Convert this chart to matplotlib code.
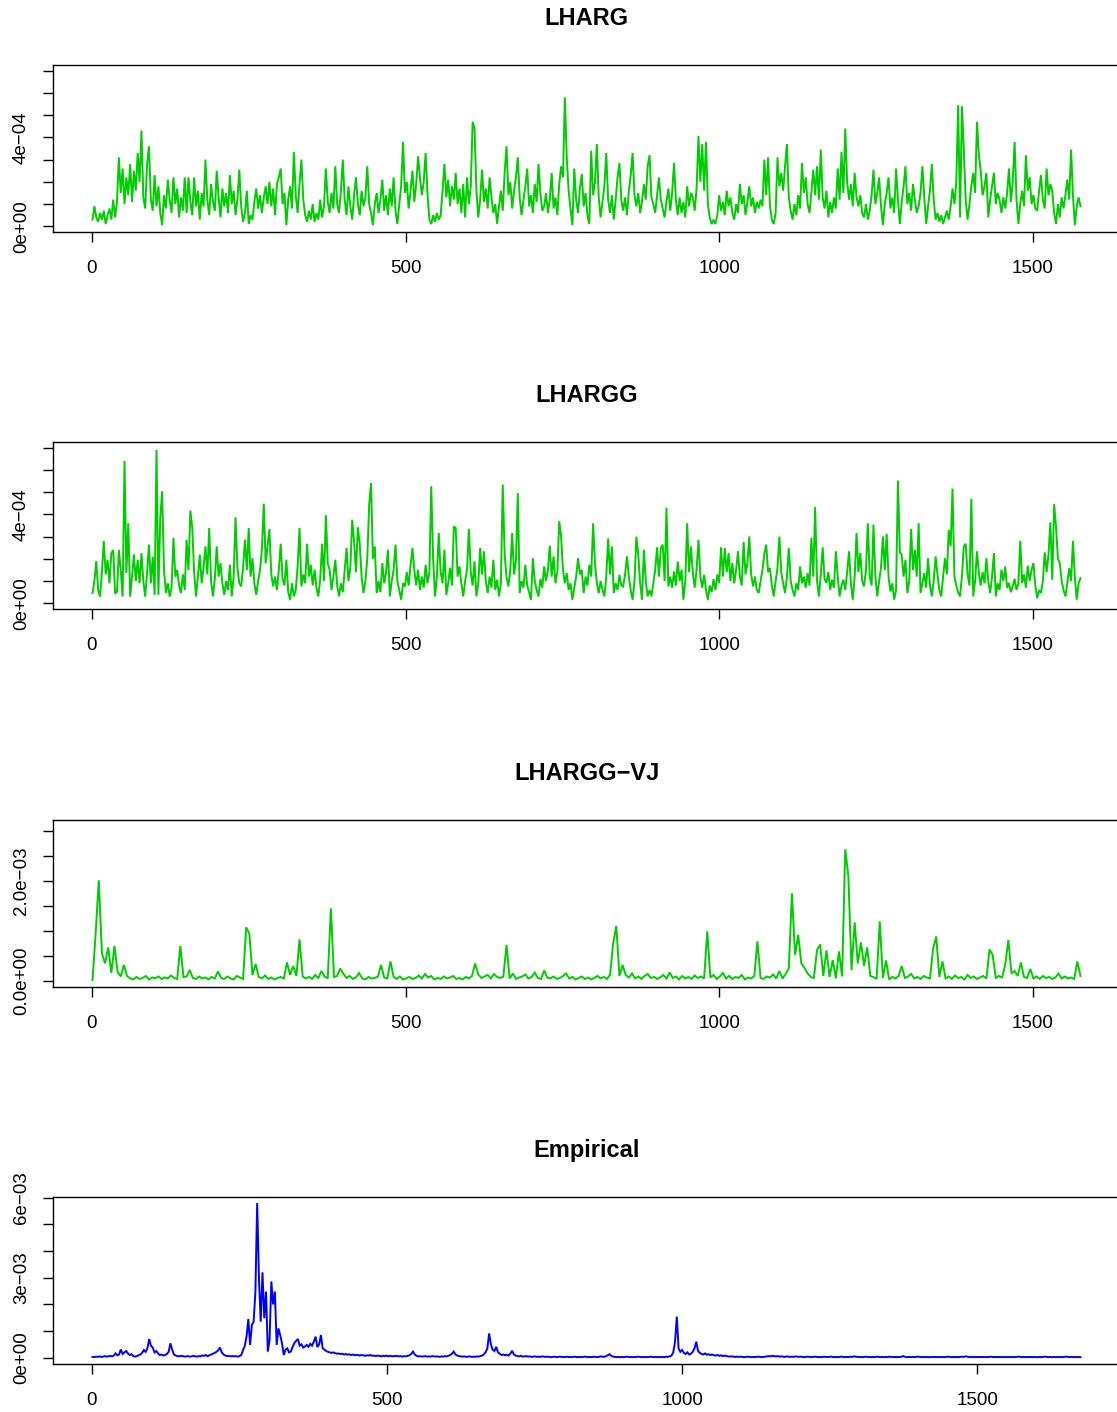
import numpy as np
import matplotlib.pyplot as plt

plt.rcParams['font.family'] = ['Liberation Sans', 'DejaVu Sans']

# conditional variance paths, one value every 3 days (units of 1e-4)
lharg = [
    0.3, 0.9, 0.4, 0.2, 0.6, 0.3, 0.7, 0.1, 0.5, 0.8,
    0.3, 1.2, 0.4, 1.1, 3.1, 1.5, 2.6, 1.0, 2.2, 1.4,
    2.8, 1.1, 2.5, 1.6, 3.3, 2.0, 4.3, 1.3, 0.8, 2.8,
    3.6, 1.2, 0.7, 2.3, 0.9, 1.8, 0.6, 0.05, 1.4, 0.8,
    2.1, 1.2, 0.6, 2.2, 1.0, 1.7, 0.4, 1.3, 0.7, 2.2,
    0.6, 2.2, 1.1, 0.5, 2.2, 0.9, 1.6, 0.3, 1.5, 0.9,
    3.0, 1.2, 0.5, 1.9, 1.1, 0.7, 2.5, 1.3, 0.4, 1.7,
    0.9, 1.5, 0.6, 2.3, 1.0, 1.6, 0.5, 1.2, 2.55, 0.9,
    0.2, 0.6, 1.6, 0.1, 0.5, 0.3, 1.1, 1.7, 0.8, 1.4,
    0.6, 1.3, 1.8, 1.0, 2.0, 0.9, 1.7, 0.5, 1.9, 2.2,
    2.6, 1.0, 1.5, 0.05, 1.2, 1.8, 0.8, 3.35, 1.4, 0.6,
    1.9, 3.0, 1.2, 0.5, 0.2, 0.7, 0.3, 1.0, 0.2, 0.6,
    0.3, 1.2, 0.4, 0.9, 2.6, 1.1, 0.6, 1.5, 0.8, 2.7,
    1.0, 0.6, 1.6, 3.0, 1.2, 0.5, 1.8, 0.9, 0.3, 1.4,
    2.2, 1.0, 0.5, 1.6, 0.9, 1.3, 2.7, 1.0, 0.6, 0.05,
    1.0, 1.5, 0.6, 1.2, 2.1, 0.7, 1.4, 0.5, 1.7, 0.9,
    2.2, 0.7, 0.1, 1.0, 1.8, 3.8, 1.5, 2.0, 0.8, 1.6,
    2.5, 1.1, 1.9, 3.15, 2.2, 1.4, 2.0, 3.3, 1.5, 0.3,
    0.1, 0.5, 0.2, 0.6, 0.3, 0.5, 1.6, 2.8, 1.3, 2.1,
    0.9, 1.8, 1.2, 2.4, 1.0, 1.7, 0.6, 1.9, 0.4, 2.2,
    1.0, 1.8, 4.7, 4.4, 1.6, 0.4, 1.2, 2.55, 1.1, 1.7,
    0.8, 2.2, 1.3, 0.6, 1.0, 0.1, 0.9, 1.6, 0.7, 2.4,
    3.6, 1.4, 2.0, 0.8, 1.6, 2.2, 3.1, 1.3, 0.5, 1.2,
    1.8, 2.6, 0.9, 1.4, 0.6, 1.9, 1.1, 2.8, 1.5, 0.7,
    0.9, 1.5, 0.6, 1.2, 2.4, 0.8, 1.3, 0.5, 1.9, 2.7,
    2.2, 5.8, 3.1, 1.6, 0.8, 0.05, 2.6, 1.2, 0.6, 1.7,
    2.35, 0.9, 1.5, 0.5, 0.1, 3.4, 1.4, 2.0, 3.7, 1.3,
    0.4, 1.1, 1.8, 3.3, 1.2, 0.6, 1.4, 0.3, 1.2, 2.2,
    2.85, 1.2, 0.7, 1.3, 0.5, 1.6, 2.3, 3.3, 1.4, 0.9,
    1.5, 0.6, 1.1, 1.9, 1.2, 2.7, 3.2, 1.3, 1.0, 0.6,
    1.4, 2.2, 1.2, 0.8, 0.4, 1.1, 1.7, 0.7, 1.5, 2.85,
    1.2, 0.5, 1.3, 0.6, 1.1, 0.4, 1.8, 0.9, 1.5, 1.3,
    0.7, 1.7, 4.06, 2.0, 3.7, 1.6, 3.8, 1.0, 0.4, 0.1,
    0.3, 0.1, 0.5, 1.4, 0.7, 1.1, 0.5, 1.6, 0.9, 1.3,
    0.6, 0.3, 1.0, 0.6, 1.9, 1.0, 1.4, 0.5, 1.1, 1.8,
    0.9, 1.3, 0.6, 1.1, 0.8, 1.2, 0.9, 3.0, 1.4, 3.1,
    0.9, 0.3, 0.1, 0.6, 3.1, 1.8, 2.4, 1.6, 2.7, 3.7,
    1.3, 0.7, 0.3, 1.0, 0.5, 1.4, 0.8, 2.85, 1.5, 2.2,
    1.0, 0.6, 1.5, 2.55, 1.4, 2.7, 1.2, 3.45, 1.3, 0.8,
    1.6, 0.4, 1.1, 0.6, 1.3, 0.8, 2.6, 1.2, 3.35, 1.5,
    4.4, 2.0, 1.2, 1.9, 0.9, 2.4, 1.3, 0.9, 1.4, 0.6,
    0.4, 1.0, 0.3, 0.7, 1.4, 2.55, 1.0, 1.5, 2.2, 0.9,
    0.05, 1.0, 1.5, 2.2, 0.8, 1.3, 0.6, 2.6, 1.2, 0.1,
    1.1, 1.8, 2.7, 1.0, 1.5, 0.7, 1.9, 1.2, 0.6, 0.9,
    1.5, 2.7, 1.3, 0.1, 0.9, 1.6, 2.8, 1.2, 0.3, 0.6,
    0.2, 0.5, 0.1, 0.4, 0.7, 0.3, 0.9, 1.7, 1.0, 2.0,
    5.45, 0.4, 5.4, 3.45, 1.2, 0.3, 1.0, 1.8, 2.4, 1.5,
    4.7, 3.2, 2.5, 1.4, 1.8, 2.4, 0.4, 1.2, 1.8, 2.4,
    1.0, 1.5, 1.2, 0.6, 1.3, 0.8, 1.5, 2.6, 1.1, 2.0,
    3.8, 1.2, 0.1, 1.0, 1.6, 0.9, 3.2, 1.6, 2.2, 1.0,
    1.4, 0.8, 0.7, 1.6, 2.3, 1.2, 0.8, 2.6, 1.4, 1.9,
    1.6, 0.6, 0.1, 1.0, 0.4, 1.3, 0.8, 1.4, 2.1, 1.2,
    3.45, 1.4, 0.05, 0.9, 1.3, 0.9,
]

lhargg = [
    0.46, 1.0, 1.9, 0.6, 0.3, 1.4, 2.8, 1.3, 1.96, 0.9,
    2.26, 2.4, 0.46, 0.5, 2.4, 1.5, 0.3, 6.4, 1.36, 3.6,
    0.3, 1.2, 2.2, 1.0, 1.96, 0.9, 2.26, 1.0, 0.3, 1.4,
    2.64, 0.9, 2.1, 0.38, 6.9, 0.38, 3.84, 5.04, 1.5, 0.46,
    0.9, 0.3, 0.7, 2.94, 1.2, 1.5, 0.8, 0.46, 1.3, 0.6,
    2.86, 1.5, 4.17, 3.39, 1.4, 0.31, 1.2, 2.19, 0.9, 1.6,
    2.56, 1.3, 3.39, 1.0, 0.31, 1.1, 2.56, 1.2, 1.81, 0.9,
    0.38, 1.0, 0.6, 1.73, 0.31, 1.2, 3.87, 1.6, 0.9, 0.76,
    1.6, 2.86, 1.5, 3.39, 1.2, 2.03, 0.9, 0.38, 1.0, 1.5,
    2.41, 4.48, 1.8, 2.56, 3.34, 1.3, 0.76, 1.2, 0.6, 1.5,
    2.68, 1.1, 0.8, 1.96, 0.5, 0.16, 0.9, 0.31, 0.6, 1.66,
    3.39, 0.76, 1.3, 0.9, 2.68, 1.2, 1.73, 0.8, 1.51, 0.7,
    0.31, 1.1, 2.68, 1.0, 3.96, 1.8, 1.51, 0.6, 1.21, 1.96,
    0.8, 0.31, 0.9, 0.5, 1.51, 2.49, 1.0, 1.6, 3.76, 2.79,
    1.4, 3.42, 2.68, 1.2, 0.46, 1.0, 2.0, 4.41, 5.41, 2.0,
    2.56, 0.46, 1.0, 0.5, 1.81, 0.9, 1.4, 2.41, 0.31, 1.0,
    1.5, 2.64, 1.0, 0.6, 0.16, 0.9, 0.76, 1.4, 0.8, 1.7,
    2.49, 1.51, 0.8, 1.51, 0.6, 1.2, 0.7, 1.73, 0.9, 1.4,
    5.26, 2.0, 0.31, 1.2, 3.16, 1.4, 0.9, 2.41, 0.38, 0.9,
    1.6, 0.8, 3.46, 3.39, 1.2, 1.66, 0.9, 0.31, 1.0, 1.5,
    3.34, 1.4, 0.8, 1.89, 0.31, 0.9, 2.49, 1.3, 2.34, 1.0,
    0.46, 1.2, 0.7, 1.96, 0.6, 1.06, 0.31, 0.9, 5.34, 2.19,
    1.2, 0.76, 1.5, 3.16, 1.3, 1.9, 4.96, 0.46, 1.0, 0.7,
    1.73, 0.8, 0.5, 0.16, 2.03, 1.0, 0.6, 0.31, 1.1, 0.7,
    1.66, 1.0, 1.5, 2.59, 1.2, 2.11, 0.9, 1.4, 3.69, 3.01,
    1.5, 0.9, 1.36, 0.6, 0.9, 0.16, 0.7, 1.2, 2.03, 1.3,
    1.5, 0.46, 1.2, 0.8, 1.73, 1.2, 3.6, 1.8, 0.9, 0.46,
    1.0, 0.6, 0.31, 1.2, 2.92, 1.3, 2.56, 0.46, 0.9, 0.6,
    1.28, 0.8, 0.76, 1.3, 2.11, 1.2, 0.6, 0.16, 1.0, 3.0,
    2.19, 0.9, 0.16, 2.41, 1.0, 0.31, 0.6, 0.31, 0.9, 1.5,
    2.52, 1.2, 2.49, 2.64, 1.0, 4.3, 0.76, 1.2, 0.7, 1.43,
    0.8, 1.88, 1.0, 1.51, 0.16, 1.0, 3.6, 1.4, 2.56, 1.36,
    0.7, 1.5, 2.86, 1.2, 0.7, 1.28, 0.6, 0.16, 0.8, 0.5,
    1.09, 0.6, 1.3, 0.9, 2.52, 1.2, 2.49, 1.4, 2.26, 1.0,
    1.81, 0.9, 1.5, 2.34, 1.2, 0.8, 2.76, 1.3, 1.8, 3.01,
    1.3, 0.76, 1.2, 0.6, 0.46, 1.0, 1.5, 2.21, 2.64, 1.4,
    1.58, 0.8, 0.31, 1.0, 1.6, 3.0, 1.4, 0.9, 0.46, 1.2,
    2.49, 1.0, 0.6, 0.31, 0.9, 0.6, 1.66, 0.9, 1.2, 0.7,
    1.36, 0.8, 2.94, 1.2, 4.33, 1.0, 0.31, 1.3, 2.52, 1.1,
    0.91, 1.4, 0.6, 1.06, 0.7, 2.34, 1.2, 0.31, 0.8, 1.06,
    0.6, 1.4, 2.34, 0.9, 0.16, 1.2, 3.16, 1.4, 2.26, 1.0,
    0.76, 1.5, 3.6, 1.21, 0.8, 3.54, 1.2, 0.31, 1.0, 1.6,
    3.01, 1.5, 3.13, 1.2, 0.53, 0.9, 0.16, 0.6, 5.52, 2.3,
    2.19, 1.2, 1.96, 0.46, 1.0, 3.34, 1.5, 2.41, 1.2, 3.6,
    0.46, 0.9, 1.36, 0.7, 2.03, 0.8, 0.31, 1.0, 2.11, 1.3,
    0.6, 0.31, 1.2, 2.03, 1.3, 3.3, 2.56, 5.16, 1.21, 0.8,
    0.5, 0.31, 1.2, 2.56, 2.68, 1.3, 0.8, 4.7, 0.31, 1.0,
    2.34, 1.36, 0.8, 1.4, 0.9, 2.03, 1.0, 0.46, 1.2, 2.26,
    0.31, 0.9, 0.6, 1.51, 1.0, 1.66, 0.7, 0.91, 0.5, 0.76,
    1.1, 0.6, 0.91, 2.81, 0.91, 1.3, 0.7, 1.69, 1.0, 1.5,
    1.81, 0.8, 0.23, 0.6, 0.46, 1.0, 2.29, 1.4, 2.19, 3.64,
    1.06, 4.46, 3.46, 2.0, 1.81, 1.0, 0.6, 0.31, 0.9, 1.58,
    1.0, 2.81, 1.2, 0.16, 0.9, 1.13,
]

# jump-augmented model, one value every 5 days (units of 1e-4)
lhargg_vj = [
    0.2, 9.5, 20.1, 5.5, 3.5, 6.7, 1.6, 7.0, 1.8, 0.9,
    3.2, 1.0, 0.5, 0.3, 0.8, 0.4, 0.6, 1.0, 0.3, 0.7,
    0.5, 0.9, 0.4, 0.7, 0.5, 1.1, 0.6, 0.4, 7.0, 0.8,
    0.9, 2.2, 0.6, 0.4, 0.9, 0.5, 0.7, 0.3, 0.8, 0.5,
    1.9, 0.6, 0.4, 0.9, 0.5, 0.3, 1.0, 0.7, 0.4, 10.7,
    9.5, 1.2, 3.4, 0.8, 0.5, 1.1, 0.4, 0.7, 0.3, 0.6,
    0.8, 0.5, 3.7, 1.2, 3.0, 1.0, 8.3, 0.9, 0.5, 0.8,
    0.4, 1.2, 0.6, 2.0, 0.9, 0.5, 14.5, 0.8, 1.0, 2.5,
    1.4, 0.6, 1.0, 0.4, 0.7, 1.6, 0.5, 0.3, 0.8, 0.5,
    0.6, 0.9, 3.2, 0.7, 0.5, 3.9, 0.8, 0.4, 0.9, 0.3,
    0.5, 0.8, 0.4, 0.6, 1.1, 0.5, 1.4, 0.7, 1.0, 0.3,
    0.6, 0.4, 0.9, 0.5, 0.7, 1.0, 0.4, 0.6, 0.3, 0.8,
    0.5, 1.0, 3.5, 1.3, 0.6, 0.9, 1.2, 0.5, 1.4, 0.8,
    0.6, 0.9, 7.2, 0.5, 1.5, 0.4, 0.7, 0.9, 1.3, 0.5,
    0.8, 1.7, 0.6, 0.4, 2.1, 0.7, 0.5, 0.9, 0.4, 0.6,
    1.0, 1.5, 0.5, 0.8, 0.3, 0.6, 0.9, 0.4, 0.7, 0.3,
    0.6, 1.0, 0.5, 0.8, 0.4, 1.2, 7.5, 11.0, 1.0, 3.2,
    1.2, 0.7, 1.5, 0.5, 0.9, 0.4, 1.0, 1.4, 0.6, 0.8,
    0.4, 0.7, 1.2, 0.5, 1.7, 0.6, 0.9, 0.3, 1.0, 0.5,
    0.8, 0.4, 1.1, 0.6, 0.9, 0.5, 9.9, 0.7, 1.2, 0.4,
    0.9, 1.6, 0.5, 1.0, 0.4, 0.8, 0.6, 1.2, 0.3, 0.7,
    0.5, 1.0, 7.9, 0.6, 0.4, 0.9, 0.7, 1.3, 0.5, 2.0,
    0.5, 1.4, 2.5, 17.5, 5.2, 9.2, 3.5, 2.6, 1.5, 0.8,
    0.6, 6.2, 7.3, 1.0, 6.1, 0.8, 4.2, 0.5, 5.9, 0.9,
    26.3, 20.9, 2.2, 11.7, 3.5, 7.7, 3.0, 6.7, 1.0, 0.8,
    0.4, 11.9, 0.6, 4.1, 0.3, 0.8, 0.5, 1.0, 3.0, 0.6,
    0.9, 1.4, 0.5, 0.8, 0.4, 1.0, 0.7, 0.5, 6.4, 8.9,
    0.8, 3.9, 0.5, 0.9, 0.4, 1.1, 0.6, 0.8, 0.3, 1.2,
    0.6, 0.9, 0.4, 0.7, 1.0, 0.5, 6.3, 5.2, 0.6, 1.0,
    0.7, 3.2, 8.2, 1.5, 2.0, 1.0, 3.7, 0.8, 0.6, 2.4,
    0.5, 0.9, 0.4, 1.0, 0.6, 0.8, 0.4, 0.7, 1.5, 0.5,
    0.9, 0.5, 0.7, 0.4, 3.9, 1.0,
]

# realized variance, one value every 3 days (units of 1e-3)
empirical = [
    0.03, 0.02, 0.04, 0.03, 0.05, 0.03, 0.04, 0.06, 0.04, 0.05,
    0.07, 0.05, 0.08, 0.16, 0.09, 0.12, 0.31, 0.14, 0.20, 0.25,
    0.16, 0.10, 0.13, 0.06, 0.04, 0.06, 0.09, 0.12, 0.18, 0.29,
    0.22, 0.35, 0.70, 0.45, 0.38, 0.20, 0.25, 0.16, 0.10, 0.12,
    0.08, 0.10, 0.14, 0.22, 0.54, 0.30, 0.12, 0.08, 0.06, 0.05,
    0.07, 0.06, 0.04, 0.05, 0.06, 0.04, 0.05, 0.07, 0.05, 0.04,
    0.06, 0.05, 0.08, 0.07, 0.10, 0.06, 0.09, 0.12, 0.15, 0.18,
    0.22, 0.28, 0.38, 0.20, 0.12, 0.08, 0.06, 0.07, 0.05, 0.06,
    0.05, 0.06, 0.04, 0.06, 0.10, 0.28, 0.45, 0.79, 1.45, 0.48,
    1.23, 1.35, 2.48, 5.80, 2.98, 1.35, 3.20, 1.48, 2.48, 0.23,
    0.66, 2.86, 2.00, 2.48, 0.48, 1.10, 0.85, 0.55, 0.10, 0.30,
    0.35, 0.20, 0.23, 0.40, 0.55, 0.63, 0.70, 0.45, 0.50, 0.38,
    0.42, 0.48, 0.41, 0.52, 0.45, 0.60, 0.79, 0.40, 0.50, 0.85,
    0.35, 0.30, 0.25, 0.22, 0.20, 0.18, 0.20, 0.17, 0.15, 0.16,
    0.14, 0.15, 0.12, 0.14, 0.11, 0.13, 0.10, 0.12, 0.09, 0.11,
    0.10, 0.08, 0.10, 0.09, 0.07, 0.09, 0.08, 0.10, 0.07, 0.08,
    0.06, 0.08, 0.07, 0.05, 0.07, 0.06, 0.08, 0.05, 0.07, 0.06,
    0.05, 0.07, 0.06, 0.05, 0.06, 0.04, 0.06, 0.05, 0.07, 0.09,
    0.14, 0.23, 0.12, 0.07, 0.05, 0.06, 0.04, 0.05, 0.06, 0.04,
    0.05, 0.04, 0.06, 0.05, 0.04, 0.05, 0.03, 0.05, 0.04, 0.06,
    0.05, 0.07, 0.10, 0.15, 0.23, 0.12, 0.08, 0.06, 0.05, 0.04,
    0.05, 0.03, 0.04, 0.05, 0.03, 0.04, 0.03, 0.05, 0.04, 0.06,
    0.08, 0.12, 0.20, 0.35, 0.91, 0.50, 0.30, 0.25, 0.41, 0.20,
    0.15, 0.10, 0.12, 0.09, 0.11, 0.08, 0.15, 0.26, 0.12, 0.08,
    0.06, 0.05, 0.07, 0.04, 0.05, 0.06, 0.04, 0.05, 0.03, 0.04,
    0.05, 0.03, 0.04, 0.03, 0.05, 0.04, 0.03, 0.04, 0.03, 0.02,
    0.03, 0.04, 0.02, 0.03, 0.04, 0.03, 0.02, 0.03, 0.04, 0.02,
    0.03, 0.02, 0.04, 0.03, 0.02, 0.03, 0.02, 0.03, 0.04, 0.03,
    0.02, 0.03, 0.02, 0.04, 0.03, 0.02, 0.03, 0.05, 0.04, 0.03,
    0.06, 0.09, 0.13, 0.07, 0.04, 0.03, 0.02, 0.03, 0.02, 0.03,
    0.02, 0.03, 0.04, 0.02, 0.03, 0.02, 0.03, 0.02, 0.04, 0.03,
    0.02, 0.03, 0.02, 0.03, 0.02, 0.04, 0.03, 0.02, 0.03, 0.02,
    0.03, 0.02, 0.03, 0.02, 0.04, 0.03, 0.05, 0.08, 0.20, 0.60,
    1.54, 0.35, 0.22, 0.29, 0.18, 0.14, 0.20, 0.12, 0.15, 0.22,
    0.35, 0.60, 0.25, 0.18, 0.14, 0.12, 0.16, 0.11, 0.13, 0.10,
    0.12, 0.09, 0.08, 0.10, 0.07, 0.09, 0.06, 0.08, 0.06, 0.05,
    0.04, 0.05, 0.04, 0.03, 0.04, 0.03, 0.04, 0.03, 0.02, 0.03,
    0.04, 0.03, 0.02, 0.03, 0.02, 0.03, 0.04, 0.03, 0.02, 0.03,
    0.04, 0.05, 0.06, 0.05, 0.07, 0.06, 0.05, 0.06, 0.04, 0.05,
    0.04, 0.03, 0.05, 0.04, 0.03, 0.04, 0.03, 0.05, 0.04, 0.03,
    0.04, 0.03, 0.02, 0.03, 0.04, 0.03, 0.02, 0.03, 0.04, 0.03,
    0.02, 0.03, 0.02, 0.04, 0.03, 0.02, 0.03, 0.04, 0.03, 0.02,
    0.03, 0.02, 0.03, 0.04, 0.03, 0.02, 0.03, 0.02, 0.04, 0.03,
    0.05, 0.04, 0.03, 0.02, 0.03, 0.02, 0.03, 0.04, 0.02, 0.03,
    0.02, 0.03, 0.02, 0.04, 0.03, 0.02, 0.03, 0.02, 0.03, 0.02,
    0.04, 0.03, 0.02, 0.03, 0.02, 0.03, 0.02, 0.04, 0.06, 0.03,
    0.02, 0.03, 0.02, 0.03, 0.02, 0.03, 0.04, 0.03, 0.02, 0.03,
    0.02, 0.03, 0.02, 0.02, 0.03, 0.02, 0.03, 0.02, 0.03, 0.02,
    0.03, 0.02, 0.03, 0.04, 0.03, 0.02, 0.03, 0.02, 0.03, 0.02,
    0.03, 0.04, 0.03, 0.05, 0.04, 0.03, 0.02, 0.03, 0.02, 0.03,
    0.02, 0.03, 0.02, 0.03, 0.02, 0.03, 0.02, 0.04, 0.03, 0.02,
    0.03, 0.02, 0.03, 0.02, 0.03, 0.02, 0.03, 0.02, 0.03, 0.02,
    0.03, 0.02, 0.03, 0.04, 0.03, 0.02, 0.03, 0.02, 0.03, 0.02,
    0.03, 0.02, 0.03, 0.02, 0.02, 0.03, 0.02, 0.03, 0.04, 0.03,
    0.02, 0.03, 0.02, 0.03, 0.02, 0.03, 0.02, 0.03, 0.02, 0.03,
    0.04, 0.03, 0.02, 0.03, 0.02, 0.03, 0.02, 0.03, 0.02,
]

titles = ["LHARG", "LHARGG", "LHARGG\u2212VJ", "Empirical"]
x_ticks = [0, 500, 1000, 1500]

M = "\u2212"
panels = [
    # values, step, unit, colour, n, ylim, yticks, labelled ticks
    (lharg, 3, 1e-4, "#00CD00", 1576, (-0.256e-4, 7.256e-4),
     [k * 1e-4 for k in range(8)], {0: "0e+00", 4: "4e" + M + "04"}),
    (lhargg, 3, 1e-4, "#00CD00", 1576, (-0.256e-4, 7.256e-4),
     [k * 1e-4 for k in range(8)], {0: "0e+00", 4: "4e" + M + "04"}),
    (lhargg_vj, 5, 1e-4, "#00CD00", 1576, (-0.12e-3, 3.214e-3),
     [k * 5e-4 for k in range(7)], {0: "0.0e+00", 4: "2.0e" + M + "03"}),
    (empirical, 3, 1e-3, "#0000FF", 1675, (-0.236e-3, 6.026e-3),
     [k * 1e-3 for k in range(7)], {0: "0e+00", 3: "3e" + M + "03", 6: "6e" + M + "03"}),
]

fig = plt.figure(figsize=(11.17, 14.12), dpi=100)
W, H = 1117.0, 1412.0
tops = [65, 442, 820, 1197]

for k, (vals, step, unit, col, n, ylim, yt, ylab) in enumerate(panels):
    top = tops[k]
    ax = fig.add_axes([53 / W, 1 - (top + 167) / H, 1067 / W, 167 / H])
    x = 1 + step * np.arange(len(vals))
    y = np.array(vals) * unit
    ax.plot(x, y, color=col, lw=1.4, solid_joinstyle="miter")

    pad = 0.04 * (n - 1)
    ax.set_xlim(1 - pad, n + pad)
    ax.set_ylim(*ylim)
    ax.set_xticks(x_ticks)
    ax.set_xticklabels([str(t) for t in x_ticks])
    ax.set_yticks(yt)
    ax.set_yticklabels([ylab.get(i, "") for i in range(len(yt))])
    for lab in ax.get_yticklabels():
        lab.set_rotation(90)
        lab.set_va("center")
        lab.set_ha("right")

    ax.tick_params(axis="both", direction="out", length=7.5, width=1.0,
                   labelsize=13.5, color="black")
    ax.tick_params(axis="x", pad=12.5)
    ax.tick_params(axis="y", pad=9)
    for sp in ax.spines.values():
        sp.set_linewidth(1.0)
        sp.set_color("black")
    ax.set_title(titles[k], fontsize=17, fontweight="bold", pad=28.5)

fig.savefig("out.png", dpi=100)
